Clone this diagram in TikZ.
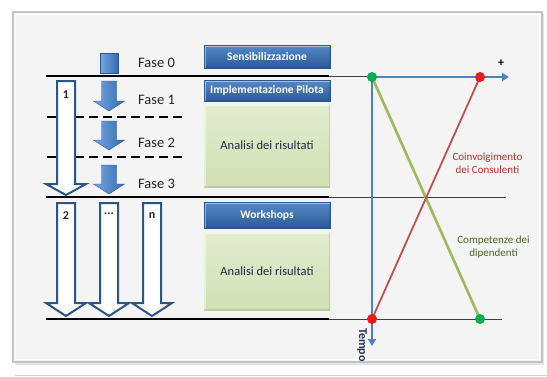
\documentclass[tikz,border=0pt]{standalone}
\usepackage{fontspec}
\setmainfont{Carlito}
\usetikzlibrary{arrows.meta}
\definecolor{hdrtop}{HTML}{5689C9}
\definecolor{hdrbot}{HTML}{2B5A96}
\definecolor{hdrline}{HTML}{2D5A92}
\definecolor{grtop}{HTML}{E2EBCF}
\definecolor{grbot}{HTML}{D2E0B4}
\definecolor{hollowline}{HTML}{2B5585}
\definecolor{farl}{HTML}{79A7E2}
\definecolor{farr}{HTML}{336AB2}
\definecolor{axisblue}{HTML}{4F81BD}
\definecolor{lgreen}{HTML}{9BBB59}
\definecolor{lred}{HTML}{C0504D}
\definecolor{dotgreen}{HTML}{00B050}
\definecolor{dotred}{HTML}{F01818}
\definecolor{txtred}{HTML}{B8312F}
\definecolor{txtgreen}{HTML}{4F6228}
\definecolor{panelfill}{HTML}{F4F4F4}
\definecolor{panelline}{HTML}{C4C4C4}
\definecolor{tempocol}{HTML}{24344F}
\definecolor{boxtxt}{HTML}{1E2B45}
\tikzset{
  bevel/.style={path picture={
      \draw[line width=3pt, white, opacity=0.45] (path picture bounding box.south west) -- (path picture bounding box.north west) -- (path picture bounding box.north east);
      \draw[line width=3pt, black, opacity=0.10] (path picture bounding box.south west) -- (path picture bounding box.south east) -- (path picture bounding box.north east);
  }},
  hdrbox/.style={draw=hdrline, line width=0.5pt, top color=hdrtop, bottom color=hdrbot, bevel,
    text=white, font=\bfseries\fontsize{11.5}{12}\selectfont, minimum width=126pt, inner sep=0pt},
  grbox/.style={top color=grtop, bottom color=grbot, bevel,
    text=boxtxt, font=\fontsize{12.5}{13}\selectfont, minimum width=126pt, inner sep=0pt},
  fasetxt/.style={anchor=west, font=\fontsize{14.5}{15}\selectfont, text=black!85, inner sep=0pt},
  numtxt/.style={font=\bfseries\fontsize{12}{12}\selectfont, text=black!85, inner sep=0pt},
  hollow/.style={draw=hollowline, line width=2pt, fill=white, line join=miter},
  filledarr/.style={left color=farl, right color=farr, draw=farr!80!black, line width=0.4pt},
  sepline/.style={line width=2.4pt, black},
  thinline/.style={line width=0.8pt, black!75},
  dashline/.style={line width=2.4pt, black, dash pattern=on 9pt off 5pt},
  axisline/.style={line width=2.6pt, axisblue, -{Triangle[length=7pt,width=8pt]}},
  dotnode/.style={circle, minimum size=10pt, inner sep=0pt},
}
\begin{document}
\begin{tikzpicture}[x=1pt,y=-1pt]
\useasboundingbox (0,0) rectangle (547,376);
% panel
\fill[white] (0,0) rectangle (547,376);
\fill[black!10] (15,14) rectangle (544,365);
\draw[panelline, line width=1.2pt, fill=panelfill] (13,12) rectangle (542,362);
\draw[white, line width=0.6pt] (15.5,14.5) rectangle (539.5,359.5);
\draw[black!18, line width=0.8pt] (15,375) -- (547,375);

% separator lines
\draw[thinline] (329,76) -- (372,76);
\draw[thinline] (329,197) -- (506,197);
\draw[thinline] (329,319) -- (502,319);
\draw[sepline] (46,76) -- (329,76);
\draw[sepline] (46,197) -- (329,197);
\draw[sepline] (46,319) -- (329,319);
\draw[dashline] (47,117) -- (185,117);
\draw[dashline] (47,157) -- (185,157);

% hollow arrows
\foreach \c/\t/\h/\p in {66/81/184/195, 66/203/303/316, 109/203/303/316, 152/203/303/316}
  \draw[hollow] (\c-9,\t) -- (\c+9,\t) -- (\c+9,\h) -- (\c+20,\h) -- (\c,\p) -- (\c-20,\h) -- (\c-9,\h) -- cycle;
\node[numtxt] (n1) at (66,95) {1};
\node[numtxt] (n2) at (66,216) {2};
\node[numtxt] (n3) at (109,214) {...};
\node[numtxt] (n4) at (152,216) {n};

% filled arrows
\fill[filledarr] (100,53) rectangle (118,73);
\foreach \t/\h/\p in {81/101/111, 121/140/150, 165/184/194}
  \draw[filledarr] (109-7.5,\t) -- (109+7.5,\t) -- (109+7.5,\h) -- (109+15.5,\h) -- (109,\p) -- (109-15.5,\h) -- (109-7.5,\h) -- cycle;

% fase labels
\node[fasetxt] (f0) at (138,63) {Fase 0};
\node[fasetxt] (f1) at (138,100) {Fase 1};
\node[fasetxt] (f2) at (138,143) {Fase 2};
\node[fasetxt] (f3) at (138,184) {Fase 3};

% boxes
\node[hdrbox, minimum height=23pt] (sens) at (267,56.5) {Sensibilizzazione};
\node[hdrbox, minimum height=21pt] (impl) at (267,90.5) {Implementazione Pilota};
\node[grbox, minimum height=83pt] (an1) at (267,145.5) {Analisi dei risultati};
\node[hdrbox, minimum height=26pt] (work) at (267,215) {Workshops};
\node[grbox, minimum height=78pt] (an2) at (267,271) {Analisi dei risultati};

% chart
\coordinate (O) at (372,77);
\coordinate (xend) at (509,77);
\coordinate (yend) at (372,346);
\coordinate (rt) at (480,77);
\coordinate (rb) at (372,319);
\coordinate (gb) at (480,319);
\draw[axisline] (O) -- (yend);
\draw[axisline] (O) -- (xend);
\draw[lgreen, line width=2.6pt] (O) -- (gb);
\draw[lred, line width=1.8pt] (rb) -- (rt);
\node[dotnode, fill=dotgreen] (d1) at (O) {};
\node[dotnode, fill=dotred] (d2) at (rt) {};
\node[dotnode, fill=dotred] (d3) at (rb) {};
\node[dotnode, fill=dotgreen] (d4) at (gb) {};

\node[font=\bfseries\fontsize{12}{12}\selectfont, inner sep=0pt] (plus) at (501,63) {+};
\node[rotate=-90, font=\bfseries\fontsize{12}{12}\selectfont, text=tempocol, inner sep=0pt] (tempo) at (362,345) {Tempo};
\node[align=center, text=txtred, font=\fontsize{11}{12.5}\selectfont, inner sep=0pt] (coinv) at (487.5,163) {Coinvolgimento\\dei Consulenti};
\node[align=center, text=txtgreen, font=\fontsize{11}{12.5}\selectfont, inner sep=0pt] (comp) at (493.5,247) {Competenze dei\\dipendenti};
\end{tikzpicture}
\end{document}
